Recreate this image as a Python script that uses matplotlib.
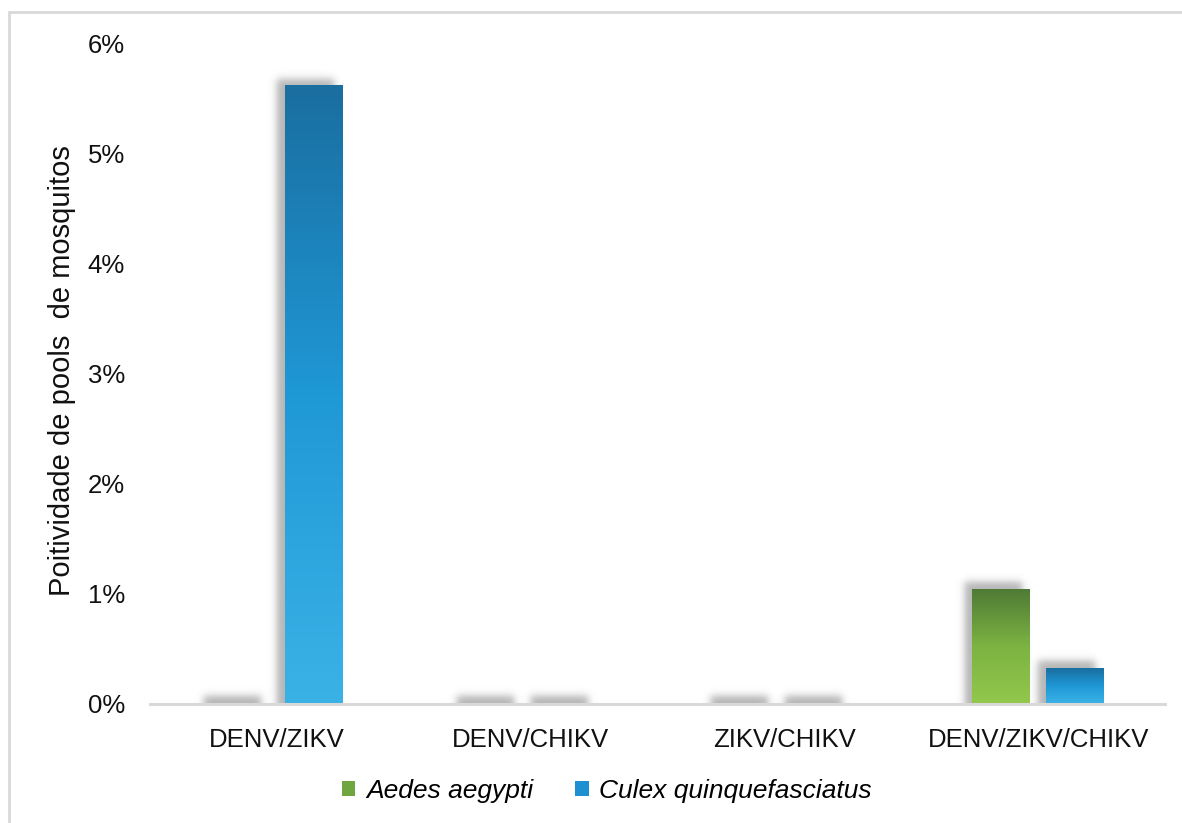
import numpy as np
import matplotlib.pyplot as plt
from matplotlib.colors import LinearSegmentedColormap
from matplotlib.patches import Patch, Rectangle

# Positivity of mosquito pools per co-infection, by species (%)
categories = ["DENV/ZIKV", "DENV/CHIKV", "ZIKV/CHIKV", "DENV/ZIKV/CHIKV"]
aedes = [0.0, 0.0, 0.0, 1.04]
culex = [5.62, 0.0, 0.0, 0.32]
species = ["Aedes aegypti", "Culex quinquefasciatus"]

plt.rcParams["font.family"] = ["Liberation Sans", "DejaVu Sans"]

green_cmap = LinearSegmentedColormap.from_list("g", ["#92c84c", "#7cb342", "#4f7a35"])
blue_cmap = LinearSegmentedColormap.from_list("b", ["#3bb2e6", "#1f98d6", "#1a6ea0"])

fig = plt.figure(figsize=(11.82, 8.23), dpi=100)
ax = fig.add_axes([0.127, 0.1446, 0.8586, 0.802])
ax.set_xlim(-0.5, 3.5)
ax.set_ylim(0, 6)

# frame around the whole figure
fig.patches.append(Rectangle((9 / 1182, -0.05), 1.1, (823 - 12) / 823 + 0.05,
                             transform=fig.transFigure, fill=False,
                             edgecolor="#d9d9d9", linewidth=2))

bb = ax.get_window_extent()
px_x = 4.0 / bb.width   # data units per pixel
px_y = 6.0 / bb.height

width = 0.228
offset = 0.145


def shadow(x0, x1, h):
    dx, dy, blur = 8 * px_x, 8 * px_y, 4.5
    bx, by = blur * px_x, blur * px_y
    sx0, sx1 = x0 - dx, x1 - dx
    top = h + dy
    ex = [sx0 - 3 * bx, sx1 + 3 * bx, 0, top + 3 * by]
    xs = np.linspace(ex[0], ex[1], 120)
    ys = np.linspace(ex[2], ex[3], 200)
    X, Y = np.meshgrid(xs, ys)
    a = 0.25 * (np.tanh((X - sx0) / bx) - np.tanh((X - sx1) / bx))
    a *= 0.5 * (1 - np.tanh((Y - top) / by))
    img = np.zeros(X.shape + (4,))
    img[..., :3] = 0.35
    img[..., 3] = 0.9 * a
    ax.imshow(img, extent=ex, origin="lower", aspect="auto", zorder=1,
              interpolation="bilinear")


def grad_bar(xc, h, cmap):
    x0, x1 = xc - width / 2, xc + width / 2
    shadow(x0, x1, h)
    if h <= 0:
        return
    grad = np.linspace(0, 1, 256).reshape(-1, 1)
    ax.imshow(grad, extent=[x0, x1, 0, h], origin="lower", aspect="auto",
              cmap=cmap, zorder=2)


for i in range(len(categories)):
    grad_bar(i - offset, aedes[i], green_cmap)
    grad_bar(i + offset, culex[i], blue_cmap)

ax.set_xlim(-0.5, 3.5)
ax.set_ylim(0, 6)

for s in ["top", "right", "left"]:
    ax.spines[s].set_visible(False)
ax.spines["bottom"].set_color("#d9d9d9")
ax.spines["bottom"].set_linewidth(2.2)
ax.spines["bottom"].set_zorder(3)

ax.set_xticks(range(len(categories)))
ax.set_xticklabels(categories)
ax.set_yticks(range(7))
ax.set_yticklabels([f"{v}%" for v in range(7)])
ax.tick_params(axis="both", length=0, labelsize=18.5, colors="#111111")
ax.tick_params(axis="x", pad=17)
ax.tick_params(axis="y", pad=18)

ax.set_ylabel("Poitividade de pools  de mosquitos", fontsize=21, color="#111111")
ax.yaxis.set_label_coords(-0.073, 0.505)

handles = [Patch(facecolor="#6fa640", edgecolor="none"),
           Patch(facecolor="#1e8fd0", edgecolor="none")]
ax.legend(handles, species, loc="center", bbox_to_anchor=(607 / 1182, 32 / 823),
          bbox_transform=fig.transFigure, ncol=2, frameon=False,
          prop={"style": "italic", "size": 19}, handlelength=0.5,
          handleheight=0.5, handletextpad=0.4, columnspacing=1.6)

fig.savefig("out.png", dpi=100)
